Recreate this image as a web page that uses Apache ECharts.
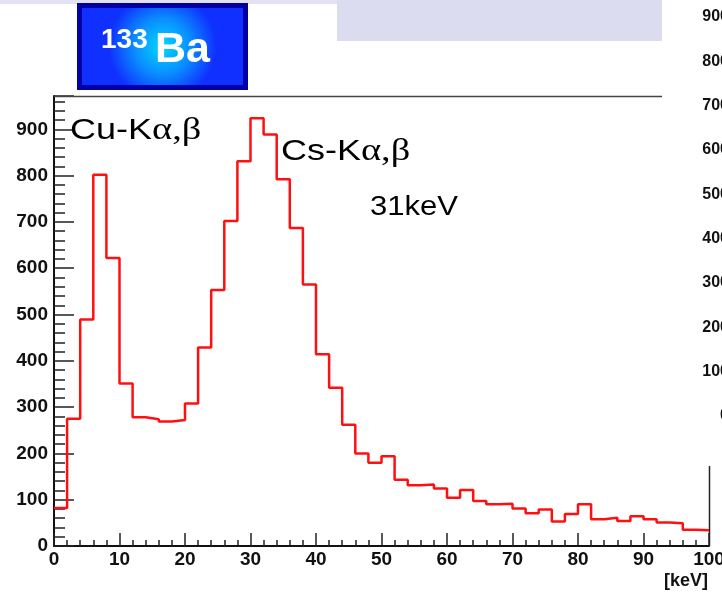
<!DOCTYPE html>
<html>
<head>
<meta charset="utf-8">
<script src="https://cdn.jsdelivr.net/npm/echarts@6/dist/echarts.min.js"></script>
<style>html,body{margin:0;padding:0;background:#fff;}#c{width:722px;height:595px;}</style>
</head>
<body>
<div id="c"></div>
<script>
// ---- data ----
const binLow = [0,2,4,6,8,10,12,14,16,18,20,22,24,26,28,30,32,34,36,38,40,42,44,46,48,50,52,54,56,58,60,62,64,66,68,70,72,74,76,78,80,82,84,86,88,90,92,94,96,98];
const histEnd = 100;
const counts = [82,275,489,802,622,351,278,274,269,272,308,429,553,702,831,924,889,792,687,565,414,342,262,200,180,194,143,131,133,124,104,121,97,90,91,81,71,79,53,69,90,58,61,54,64,58,51,49,35,34];
const xTicks = [0,10,20,30,40,50,60,70,80,90,100];
const yTicks = [0,100,200,300,400,500,600,700,800,900];
const otherAxisTicks = [0,100,200,300,400,500,600,700,800,900];
const xUnit = '[keV]';
const title = {num: '133', el: 'Ba'};
const notes = [
  {main: 'Cu-K', greek: 'α,β'},
  {main: 'Cs-K', greek: 'α,β'},
  {main: '31keV', greek: ''}
];

const histData = binLow.map((x, i) => [x, counts[i]]);
histData.push([histEnd, counts[counts.length - 1]]);

const chart = echarts.init(document.getElementById('c'), null, {renderer: 'canvas'});
const labelFont = {fontFamily: 'Liberation Sans', fontWeight: 'bold', fontSize: 19, color: '#111'};

function noteText(n, x, y, size, sx) {
  return {
    type: 'text', x: x, y: y, scaleX: sx, z: 20,
    style: {
      text: n.greek ? '{a|' + n.main + '}{g|' + n.greek + '}' : '{a|' + n.main + '}',
      rich: {
        a: {fontFamily: 'Liberation Sans', fontSize: size, fill: '#000', color: '#000'},
        g: {fontFamily: 'Liberation Serif', fontSize: size + 2, fill: '#000', color: '#000'}
      },
      align: 'left', verticalAlign: 'middle'
    }
  };
}

const option = {
  animation: false,
  backgroundColor: '#fff',
  grid: [
    {left: 54, right: 13, top: 96, bottom: 49, containLabel: false, outerBoundsMode: 'none'},
    {left: 737, top: 17, height: 399, width: 200, containLabel: false, outerBoundsMode: 'none'}
  ],
  xAxis: [
    {
      type: 'value', min: xTicks[0], max: xTicks[xTicks.length - 1], interval: 10,
      axisLine: {show: true, lineStyle: {color: '#111', width: 2}},
      axisTick: {show: true, inside: true, length: 13, lineStyle: {color: '#222', width: 1.5}},
      minorTick: {show: true, splitNumber: 5, length: 6, lineStyle: {color: '#222', width: 1.5}},
      splitLine: {show: false},
      axisLabel: Object.assign({margin: 4}, labelFont)
    },
    {gridIndex: 1, type: 'value', min: 0, max: 1, show: false}
  ],
  yAxis: [
    {
      type: 'value', min: yTicks[0], max: 972, interval: 100,
      axisLine: {show: true, lineStyle: {color: '#111', width: 2}},
      axisTick: {show: true, inside: true, length: 20, lineStyle: {color: '#222', width: 1.5}},
      minorTick: {show: true, splitNumber: 5, length: 11, lineStyle: {color: '#222', width: 1.5}},
      splitLine: {show: false},
      axisLabel: Object.assign({margin: 6, showMaxLabel: false,
        formatter: v => (yTicks.indexOf(v) >= 0 ? String(v) : '')}, labelFont)
    },
    {
      gridIndex: 1, type: 'value', min: otherAxisTicks[0], max: otherAxisTicks[otherAxisTicks.length - 1], interval: 100,
      axisLine: {show: false}, axisTick: {show: false}, splitLine: {show: false},
      axisLabel: {margin: 8, fontFamily: 'Liberation Sans', fontWeight: 'bold', fontSize: 16, color: '#111'}
    }
  ],
  series: [
    {
      type: 'line', step: 'end', data: histData, showSymbol: false, symbol: 'none',
      lineStyle: {color: '#ff1010', width: 2.5}, z: 5, clip: false
    }
  ],
  graphic: [
    // slide background pieces
    {type: 'rect', shape: {x: 0, y: 0, width: 337, height: 4}, style: {fill: '#e2e2f4'}, z: 1},
    {type: 'rect', shape: {x: 337, y: 0, width: 325, height: 41}, style: {fill: '#dcdcf1'}, z: 1},
    // frame lines
    {type: 'line', shape: {x1: 54, y1: 96.5, x2: 662, y2: 96.5}, style: {stroke: '#444', lineWidth: 1.5}, z: 3},
    {type: 'line', shape: {x1: 709.5, y1: 466, x2: 709.5, y2: 546}, style: {stroke: '#222', lineWidth: 1.5}, z: 3},
    // title box
    {type: 'rect', shape: {x: 77, y: 3, width: 171, height: 87}, style: {fill: '#0000a4'}, z: 10},
    {type: 'rect', shape: {x: 82, y: 8, width: 161, height: 77},
      style: {fill: new echarts.graphic.RadialGradient(0.5, 0.5, 0.7, [
        {offset: 0, color: '#00d8ff'}, {offset: 0.5, color: '#0a90ff'}, {offset: 1, color: '#0f30ff'}])}, z: 11},
    {type: 'text', x: 101, y: 40, z: 12, style: {text: title.num, fontFamily: 'Liberation Sans', fontWeight: 'bold', fontSize: 28, fill: '#fff', align: 'left', verticalAlign: 'middle'}},
    {type: 'text', x: 155, y: 50, z: 12, style: {text: title.el, fontFamily: 'Liberation Sans', fontWeight: 'bold', fontSize: 43, fill: '#fff', align: 'left', verticalAlign: 'middle'}},
    // annotations
    noteText(notes[0], 70, 131, 30, 1.2),
    noteText(notes[1], 281, 152, 30, 1.2),
    noteText(notes[2], 370, 208, 27, 1.15),
    // unit
    {type: 'text', x: 708, y: 581, z: 12, style: {text: xUnit, fontFamily: 'Liberation Sans', fontWeight: 'bold', fontSize: 18, fill: '#111', align: 'right', verticalAlign: 'middle'}}
  ]
};
chart.setOption(option);
</script>
</body>
</html>
